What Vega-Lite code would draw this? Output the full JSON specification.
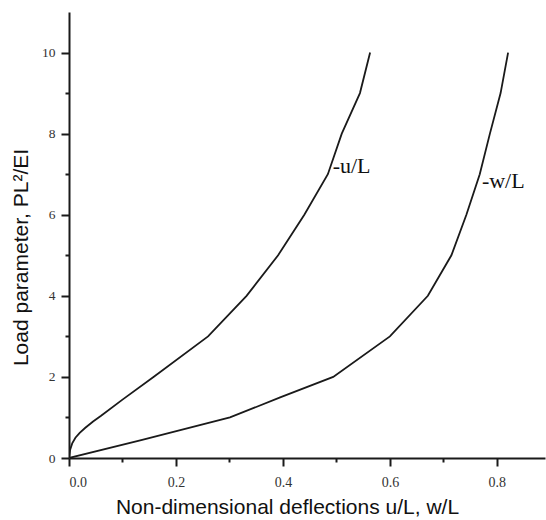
{
  "$schema": "https://vega.github.io/schema/vega-lite/v6.json",
  "width": 476,
  "height": 446,
  "autosize": {"type": "none"},
  "padding": {"left": 69, "top": 12, "right": 1, "bottom": 62},
  "background": "white",
  "config": {"view": {"stroke": null}},
  "datasets": {
    "curves": [
      {"series": "u", "x": 0.0, "y": 0.0},
      {"series": "u", "x": 0.002, "y": 0.2},
      {"series": "u", "x": 0.006, "y": 0.36},
      {"series": "u", "x": 0.012, "y": 0.5},
      {"series": "u", "x": 0.02, "y": 0.62},
      {"series": "u", "x": 0.03, "y": 0.74},
      {"series": "u", "x": 0.045, "y": 0.9},
      {"series": "u", "x": 0.06, "y": 1.04},
      {"series": "u", "x": 0.1, "y": 1.44},
      {"series": "u", "x": 0.158, "y": 2.0},
      {"series": "u", "x": 0.26, "y": 3.0},
      {"series": "u", "x": 0.332, "y": 4.0},
      {"series": "u", "x": 0.391, "y": 5.0},
      {"series": "u", "x": 0.44, "y": 6.0},
      {"series": "u", "x": 0.484, "y": 7.0},
      {"series": "u", "x": 0.51, "y": 8.0},
      {"series": "u", "x": 0.544, "y": 9.0},
      {"series": "u", "x": 0.563, "y": 10.0},
      {"series": "w", "x": 0.0, "y": 0.0},
      {"series": "w", "x": 0.135, "y": 0.44},
      {"series": "w", "x": 0.301, "y": 1.0},
      {"series": "w", "x": 0.396, "y": 1.5},
      {"series": "w", "x": 0.494, "y": 2.0},
      {"series": "w", "x": 0.6, "y": 3.0},
      {"series": "w", "x": 0.671, "y": 4.0},
      {"series": "w", "x": 0.715, "y": 5.0},
      {"series": "w", "x": 0.743, "y": 6.0},
      {"series": "w", "x": 0.768, "y": 7.0},
      {"series": "w", "x": 0.787, "y": 8.0},
      {"series": "w", "x": 0.807, "y": 9.0},
      {"series": "w", "x": 0.821, "y": 10.0}
    ],
    "labels": [
      {"label": "-u/L", "x": 0.493, "y": 7.02},
      {"label": "-w/L", "x": 0.772, "y": 6.67}
    ]
  },
  "layer": [
    {
      "data": {"name": "curves"},
      "mark": {"type": "line", "color": "#1a1a1a", "strokeWidth": 1.8, "clip": true},
      "encoding": {
        "x": {
          "field": "x", "type": "quantitative",
          "scale": {"domain": [0, 0.89], "nice": false, "zero": false},
          "axis": {
            "title": "Non-dimensional deflections u/L, w/L",
            "values": [0, 0.1, 0.2, 0.3, 0.4, 0.5, 0.6, 0.7, 0.8],
            "labelExpr": "round(datum.value*10)%2==0 ? format(datum.value,'.1f') : ''",
            "grid": false,
            "domainColor": "#1a1a1a", "domainWidth": 2,
            "tickColor": "#1a1a1a", "tickWidth": 2,
            "tickSize": {"condition": {"test": "round(datum.value*10)%2==0", "value": 8}, "value": 4},
            "labelFont": "Liberation Serif", "labelFontSize": 14, "labelColor": "#333",
            "labelPadding": 9,
            "titleFont": "Liberation Sans", "titleFontSize": 21, "titleFontWeight": "normal",
            "titleColor": "#111",
            "titleX": 218, "titleY": 55, "titleBaseline": "alphabetic", "titleAlign": "center"
          }
        },
        "y": {
          "field": "y", "type": "quantitative",
          "scale": {"domain": [0, 11], "nice": false},
          "axis": {
            "title": "Load parameter, PL²/EI",
            "values": [0, 1, 2, 3, 4, 5, 6, 7, 8, 9, 10],
            "labelExpr": "datum.value % 2 == 0 ? format(datum.value,'d') : ''",
            "grid": false,
            "domainColor": "#1a1a1a", "domainWidth": 2,
            "tickColor": "#1a1a1a", "tickWidth": 2,
            "tickSize": {"condition": {"test": "datum.value % 2 == 0", "value": 8}, "value": 4},
            "labelFont": "Liberation Serif", "labelFontSize": 13.5, "labelColor": "#333",
            "labelPadding": 6,
            "titleFont": "Liberation Sans", "titleFontSize": 21, "titleFontWeight": "normal",
            "titleColor": "#111",
            "titleX": -42, "titleY": 245, "titleBaseline": "alphabetic", "titleAlign": "center", "titleAngle": -90
          }
        },
        "detail": {"field": "series"},
        "order": {"field": "y", "type": "quantitative"}
      }
    },
    {
      "data": {"name": "labels"},
      "mark": {"type": "text", "align": "left", "baseline": "alphabetic", "font": "Liberation Serif", "fontSize": 22, "color": "#111"},
      "encoding": {
        "x": {"field": "x", "type": "quantitative"},
        "y": {"field": "y", "type": "quantitative"},
        "text": {"field": "label"}
      }
    }
  ]
}
